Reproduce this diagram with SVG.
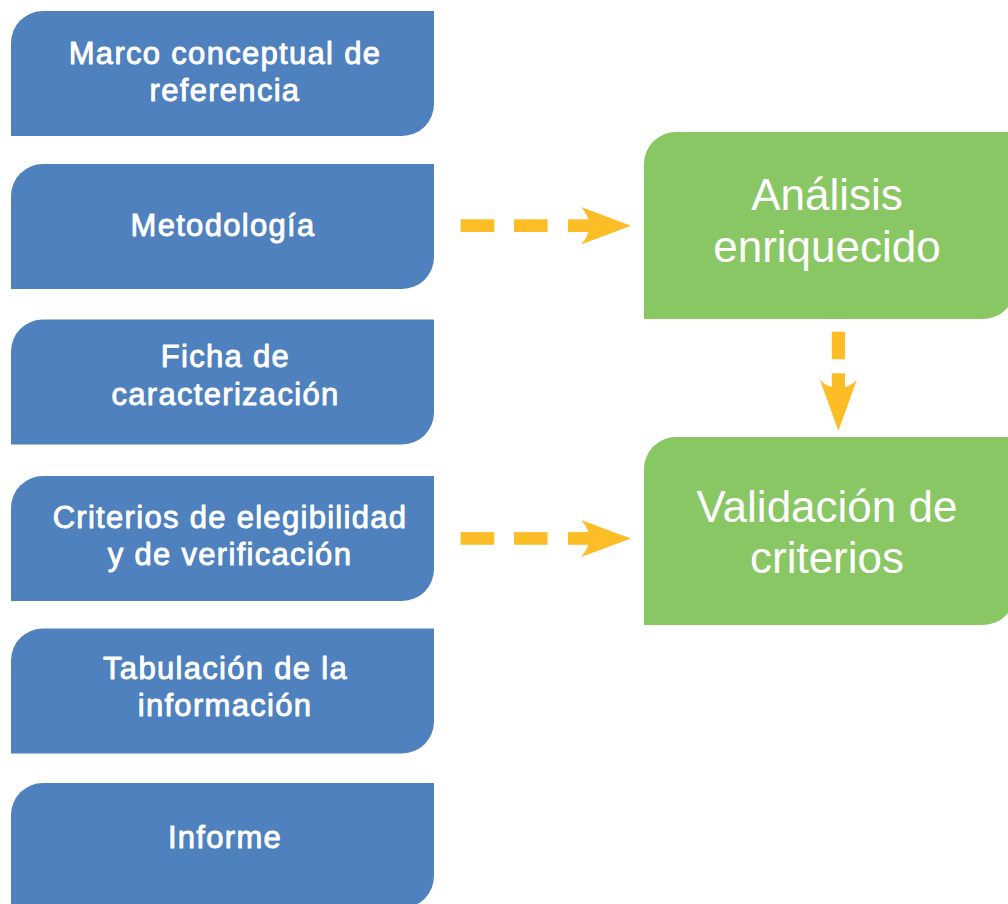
<svg xmlns="http://www.w3.org/2000/svg" width="1008" height="904" viewBox="0 0 1008 904">
  <style>
    .blue { fill: #4e81bd; }
    .green { fill: #89c765; }
    .arrow { fill: #fdbd27; }
    .bt { font-family: "Liberation Sans", Arial, sans-serif; font-size: 31px; font-weight: normal; letter-spacing: 1.3px; fill: #ffffff; stroke: #ffffff; stroke-width: 0.9px; stroke-linejoin: round; text-anchor: middle; }
    .gt { font-family: "Liberation Sans", Arial, sans-serif; font-size: 44px; fill: #ffffff; text-anchor: middle; }
  </style>
  <rect width="1008" height="904" fill="#ffffff"/>

  <g id="node-marco">
    <path class="blue" d="M11,43 A32,32 0 0 1 43,11 L434,11 L434,104 A32,32 0 0 1 402,136 L11,136 Z"/>
    <text class="bt" x="225" y="63.5">Marco conceptual de</text>
    <text class="bt" x="225" y="100.5">referencia</text>
  </g>

  <g id="node-metodologia">
    <path class="blue" d="M11,196 A32,32 0 0 1 43,164 L434,164 L434,257 A32,32 0 0 1 402,289 L11,289 Z"/>
    <text class="bt" x="223" y="235.5">Metodología</text>
  </g>

  <g id="node-ficha">
    <path class="blue" d="M11,351.5 A32,32 0 0 1 43,319.5 L434,319.5 L434,412.5 A32,32 0 0 1 402,444.5 L11,444.5 Z"/>
    <text class="bt" x="225.5" y="366.5">Ficha de</text>
    <text class="bt" x="225.5" y="405">caracterización</text>
  </g>

  <g id="node-criterios">
    <path class="blue" d="M11,508 A32,32 0 0 1 43,476 L434,476 L434,569 A32,32 0 0 1 402,601 L11,601 Z"/>
    <text class="bt" x="230" y="527.5">Criterios de elegibilidad</text>
    <text class="bt" x="230" y="565">y de verificación</text>
  </g>

  <g id="node-tabulacion">
    <path class="blue" d="M11,660.5 A32,32 0 0 1 43,628.5 L434,628.5 L434,721.5 A32,32 0 0 1 402,753.5 L11,753.5 Z"/>
    <text class="bt" x="225.5" y="679">Tabulación de la</text>
    <text class="bt" x="225" y="716">información</text>
  </g>

  <g id="node-informe">
    <path class="blue" d="M11,815 A32,32 0 0 1 43,783 L434,783 L434,876 A32,32 0 0 1 402,908 L11,908 Z"/>
    <text class="bt" x="225" y="848">Informe</text>
  </g>

  <g id="node-analisis">
    <path class="green" d="M644,164 A32,32 0 0 1 676,132 L1015,132 L1015,287 A32,32 0 0 1 983,319 L644,319 Z"/>
    <text class="gt" x="827" y="210">Análisis</text>
    <text class="gt" x="827" y="261.5">enriquecido</text>
  </g>

  <g id="node-validacion">
    <path class="green" d="M644,469 A32,32 0 0 1 676,437 L1015,437 L1015,593 A32,32 0 0 1 983,625 L644,625 Z"/>
    <text class="gt" x="827" y="521.5">Validación de</text>
    <text class="gt" x="827" y="572.5">criterios</text>
  </g>

  <g id="connectors">
    <g id="arrow-metodologia-analisis">
      <rect class="arrow" x="460.6" y="219.3" width="33.7" height="12.7"/>
      <rect class="arrow" x="514" y="219.3" width="33.6" height="12.7"/>
      <rect class="arrow" x="568" y="219.3" width="21" height="12.7"/>
      <path class="arrow" d="M581,207 L631,225.7 L581,244.4 Q589,236 589,225.7 Q589,215.4 581,207 Z"/>
    </g>
    <g id="arrow-criterios-validacion">
      <rect class="arrow" x="460.6" y="532.1" width="33.7" height="12.7"/>
      <rect class="arrow" x="514" y="532.1" width="33.6" height="12.7"/>
      <rect class="arrow" x="568" y="532.1" width="21" height="12.7"/>
      <path class="arrow" d="M581,520 L631,538.5 L581,557 Q589,548.8 589,538.5 Q589,528.2 581,520 Z"/>
    </g>
    <g id="arrow-analisis-validacion">
      <rect class="arrow" x="831.8" y="331.7" width="13.2" height="27.6"/>
      <rect class="arrow" x="831.8" y="373.3" width="13.2" height="20"/>
      <path class="arrow" d="M820,380 L838.4,431 L856.8,380 Q848.6,388 838.4,388 Q828.2,388 820,380 Z"/>
    </g>
  </g>
</svg>
